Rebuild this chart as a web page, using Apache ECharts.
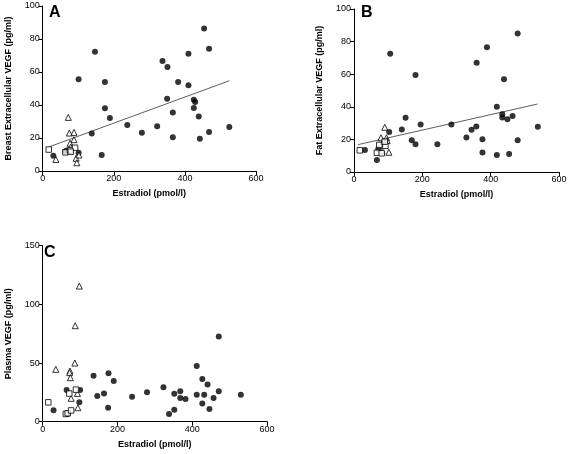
<!DOCTYPE html>
<html><head><meta charset="utf-8">
<script src="https://cdn.jsdelivr.net/npm/echarts@6/dist/echarts.min.js"></script>
<style>html,body{margin:0;padding:0;background:#fff}#c{width:573px;height:454px}</style>
</head><body><div id="c"></div>
<script>
// Panel A: Breast extracellular VEGF vs estradiol
const aCircles = [[30,9.3],[63,11.8],[68,12.5],[73,12],[101,11],[101,55.6],[138,22.8],[147,72.3],[166,9.7],[175,53.9],[175,38],[189,32.1],[238,27.9],[279,23.2],[322,27.1],[337,66.7],[350,43.8],[351,63],[366,35.4],[366,20.4],[381,53.9],[410,71.1],[410,51.9],[425,43.2],[425,38.2],[429,41.8],[439,33.1],[442,19.6],[454,86.3],[468,74.1],[468,23.6],[525,26.7]];
const aTriangles = [[37,7],[72,32.5],[75,23],[88,23.4],[88,19],[77,16.8],[79,14.5],[94,7.7],[96,5],[102,9.7]];
const aSquares = [[17,13],[64,11.3],[77,12.5],[91,14.1],[79,11.7]];
const aFit = [[19,14.7],[525,54.7]];
// Panel B: Fat extracellular VEGF vs estradiol
const bCircles = [[32,13.5],[67,7.4],[71,14.1],[103,24.5],[106,72.5],[140,26.1],[151,33.3],[169,19.5],[180,17],[180,59.5],[195,29.2],[244,17],[285,29.2],[329,21.1],[344,25.9],[358,27.9],[359,67.1],[376,20.1],[376,11.9],[389,76.6],[418,40],[418,10.5],[434,35.5],[434,33.5],[439,56.9],[449,32.4],[454,11.1],[464,34.3],[479,85],[479,19.5],[538,27.7]];
const bTriangles = [[79,21],[90,27.4],[95,21],[97,19.3],[102,12.1],[82,13],[86,19]];
const bSquares = [[17,13.3],[74,16.6],[67,11.8],[81,11.5],[92,16.1],[90,18.6]];
const bFit = [[12,16.8],[537,41.7]];
// Panel C: Plasma VEGF vs estradiol
const cCircles = [[29,9.7],[64,27.1],[66,6.5],[98,16.6],[100,27.1],[136,39.2],[146,21.9],[164,24.1],[175,11.9],[176,41.2],[190,34.7],[239,21.3],[279,25],[323,29.3],[338,6.5],[352,10.2],[352,23.9],[368,25.9],[368,20.2],[382,19.3],[412,47.4],[412,23],[427,36.4],[427,15.6],[432,23],[441,31.8],[446,10.8],[457,20.2],[471,72.7],[471,25.9],[530,23]];
const cTriangles = [[35,44.6],[73,43.2],[72,41.8],[74,37.5],[76,19.9],[86,50],[87,81.8],[98,115.6],[93,24.1],[94,11.9]];
const cSquares = [[15,16.5],[62,6.6],[67,7.2],[71,24],[76,9.6],[89,27.3]];

const xTitle = 'Estradiol (pmol/l)';
const yTitles = ['Breast Extracellular VEGF (pg/ml)', 'Fat Extracellular VEGF (pg/ml)', 'Plasma VEGF (pg/ml)'];
const panelLetters = ['A', 'B', 'C'];
const yMax = [100, 100, 150];
const yStep = [20, 20, 50];

const FONT = '"Liberation Sans", Arial, sans-serif';
const chart = echarts.init(document.getElementById('c'));

function xAxis(i) {
  return {
    gridIndex: i, type: 'value', min: 0, max: 600, interval: 200,
    name: xTitle, nameLocation: 'middle', nameGap: 18,
    nameTextStyle: {fontFamily: FONT, fontWeight: 'bold', fontSize: 9, color: '#000'},
    axisLine: {show: true, lineStyle: {color: '#000', width: 1}},
    axisTick: {show: true, length: 4, lineStyle: {color: '#000'}},
    axisLabel: {fontFamily: FONT, fontSize: 9, color: '#000', margin: 3},
    splitLine: {show: false}
  };
}
function yAxis(i) {
  return {
    gridIndex: i, type: 'value', min: 0, max: yMax[i], interval: yStep[i],
    name: yTitles[i], nameLocation: 'middle', nameGap: 30,
    nameTextStyle: {fontFamily: FONT, fontWeight: 'bold', fontSize: 9, color: '#000'},
    axisLine: {show: true, lineStyle: {color: '#000', width: 1}},
    axisTick: {show: true, length: 4, lineStyle: {color: '#000'}},
    axisLabel: {fontFamily: FONT, fontSize: 9, color: '#000', margin: 3},
    splitLine: {show: false}
  };
}
function circles(data, i) {
  return {type: 'scatter', xAxisIndex: i, yAxisIndex: i, data: data, symbol: 'circle', symbolSize: 6,
    itemStyle: {color: '#000'}, z: 3, silent: true};
}
function opens(data, i, sym, size) {
  return {type: 'scatter', xAxisIndex: i, yAxisIndex: i, data: data, symbol: sym, symbolSize: size,
    itemStyle: {color: '#fff', borderColor: '#000', borderWidth: 1}, z: 4, silent: true};
}
function fit(data, i) {
  return {type: 'line', xAxisIndex: i, yAxisIndex: i, data: data, symbol: 'none',
    lineStyle: {color: '#333', width: 0.8}, z: 2, silent: true};
}
const letterStyle = {fontFamily: FONT, fontWeight: 'bold', fontSize: 16, color: '#000'};

chart.setOption({
  animation: false,
  backgroundColor: '#fff',
  title: [
    {text: panelLetters[0], left: 49, top: 5, padding: 0, textStyle: letterStyle},
    {text: panelLetters[1], left: 361, top: 5, padding: 0, textStyle: letterStyle},
    {text: panelLetters[2], left: 44, top: 245, padding: 0, textStyle: letterStyle}
  ],
  grid: [
    {left: 42.7, top: 6, width: 213.3, height: 165, outerBoundsMode: 'none'},
    {left: 354, top: 9, width: 205, height: 163, outerBoundsMode: 'none'},
    {left: 42.7, top: 245.7, width: 224.3, height: 176, outerBoundsMode: 'none'}
  ],
  xAxis: [xAxis(0), xAxis(1), xAxis(2)],
  yAxis: [yAxis(0), yAxis(1), yAxis(2)],
  series: [
    fit(aFit, 0), circles(aCircles, 0), opens(aTriangles, 0, 'triangle', 6), opens(aSquares, 0, 'rect', 5.5),
    fit(bFit, 1), circles(bCircles, 1), opens(bTriangles, 1, 'triangle', 6), opens(bSquares, 1, 'rect', 5.5),
    circles(cCircles, 2), opens(cTriangles, 2, 'triangle', 6), opens(cSquares, 2, 'rect', 5.5)
  ]
});
</script></body></html>
